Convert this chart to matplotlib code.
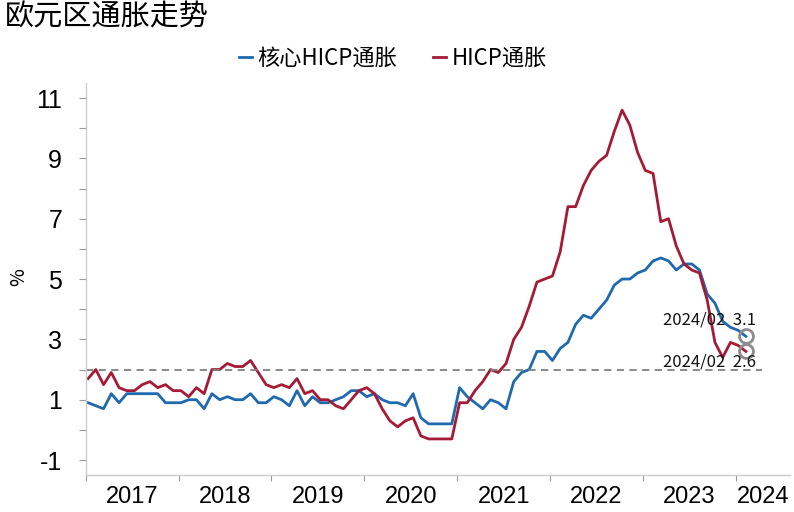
import matplotlib
matplotlib.use("Agg")
import matplotlib.pyplot as plt
from matplotlib.ticker import FixedLocator, FixedFormatter
import numpy as np

plt.rcParams['font.family'] = ['Noto Sans CJK SC', 'DejaVu Sans']

years = ['2017', '2018', '2019', '2020', '2021', '2022', '2023', '2024']

hicp = [1.7, 2.0, 1.5, 1.9, 1.4, 1.3, 1.3, 1.5, 1.6, 1.4, 1.5, 1.3,
        1.3, 1.1, 1.4, 1.2, 2.0, 2.0, 2.2, 2.1, 2.1, 2.3, 1.9, 1.5,
        1.4, 1.5, 1.4, 1.7, 1.2, 1.3, 1.0, 1.0, 0.8, 0.7, 1.0, 1.3,
        1.4, 1.2, 0.7, 0.3, 0.1, 0.3, 0.4, -0.2, -0.3, -0.3, -0.3, -0.3,
        0.9, 0.9, 1.3, 1.6, 2.0, 1.9, 2.2, 3.0, 3.4, 4.1, 4.9, 5.0,
        5.1, 5.9, 7.4, 7.4, 8.1, 8.6, 8.9, 9.1, 9.9, 10.6, 10.1, 9.2,
        8.6, 8.5, 6.9, 7.0, 6.1, 5.5, 5.3, 5.2, 4.3, 2.9, 2.4, 2.9,
        2.8, 2.6]

core = [0.9, 0.8, 0.7, 1.2, 0.9, 1.2, 1.2, 1.2, 1.2, 1.2, 0.9, 0.9,
        0.9, 1.0, 1.0, 0.7, 1.2, 1.0, 1.1, 1.0, 1.0, 1.2, 0.9, 0.9,
        1.1, 1.0, 0.8, 1.3, 0.8, 1.1, 0.9, 0.9, 1.0, 1.1, 1.3, 1.3,
        1.1, 1.2, 1.0, 0.9, 0.9, 0.8, 1.2, 0.4, 0.2, 0.2, 0.2, 0.2,
        1.4, 1.1, 0.9, 0.7, 1.0, 0.9, 0.7, 1.6, 1.9, 2.0, 2.6, 2.6,
        2.3, 2.7, 2.9, 3.5, 3.8, 3.7, 4.0, 4.3, 4.8, 5.0, 5.0, 5.2,
        5.3, 5.6, 5.7, 5.6, 5.3, 5.5, 5.5, 5.3, 4.5, 4.2, 3.6, 3.4,
        3.3, 3.1]

target = 2.0
last_label = '2024/02'

fig = plt.figure(figsize=(7.94, 5.12), dpi=100)
ax = fig.add_axes([0.108, 0.072, 0.887, 0.766])

x = np.arange(len(hicp))
blue = '#1f69b0'
red = '#a51a34'
ax.plot(x, core, color=blue, lw=2.0, label='核心HICP通胀', solid_joinstyle='round')
ax.plot(x, hicp, color=red, lw=2.0, label='HICP通胀', solid_joinstyle='round')
ax.axhline(target, color='#808080', lw=1.3, ls=(0, (4, 3)), xmax=0.96)

# last points
ax.plot(x[-1], core[-1], 'o', ms=10, mfc='none', mec='#8c8c8c', mew=2)
ax.plot(x[-1], hicp[-1], 'o', ms=10, mfc='none', mec='#8c8c8c', mew=2)
ax.text(x[-1] - 10.7, 3.63, f'{last_label}  {core[-1]:.1f}', fontsize=12,
        va='center', ha='left', color='#111111')
ax.text(x[-1] - 10.7, 2.24, f'{last_label}  {hicp[-1]:.1f}', fontsize=12,
        va='center', ha='left', color='#111111')

ax.set_xlim(-0.3, 90.7)
ax.set_ylim(-1.5, 11.5)

ax.set_yticks([-1, 1, 3, 5, 7, 9, 11])
ax.set_yticklabels(['-1', '1', '3', '5', '7', '9', '11'], family='Liberation Sans', fontsize=18)
ax.yaxis.set_minor_locator(FixedLocator([0, 2, 4, 6, 8, 10]))
ax.tick_params(axis='y', which='both', direction='out', length=5, color='#999999', width=0.8, pad=12)

xt = [12 * k - 0.3 for k in range(8)]
ax.set_xticks(xt)
ax.set_xticklabels([])
ax.xaxis.set_minor_locator(FixedLocator([12 * k + 5.7 for k in range(7)] + [87.2]))
ax.xaxis.set_minor_formatter(FixedFormatter(years))
ax.tick_params(axis='x', which='major', direction='out', length=4, color='#999999', width=0.8)
ax.tick_params(axis='x', which='minor', length=0, pad=8)
for lab in ax.get_xticklabels(minor=True):
    lab.set_family('Liberation Sans')
    lab.set_fontsize(17)

for s in ['top', 'right']:
    ax.spines[s].set_visible(False)
for s in ['left', 'bottom']:
    ax.spines[s].set_color('#cccccc')
    ax.spines[s].set_linewidth(1.0)

fig.text(0.024, 1 - 277 / 512, '%', fontsize=14, rotation=90, ha='center', va='center')

leg = ax.legend(loc='center', bbox_to_anchor=(0.436, 1.062), ncol=2, frameon=False,
                fontsize=16, handlelength=0.6, handletextpad=0.25, columnspacing=1.6)

fig.text(0.006, 0.965, '欧元区通胀走势', fontsize=21, ha='left', va='center')

fig.savefig('out.png', dpi=100)
